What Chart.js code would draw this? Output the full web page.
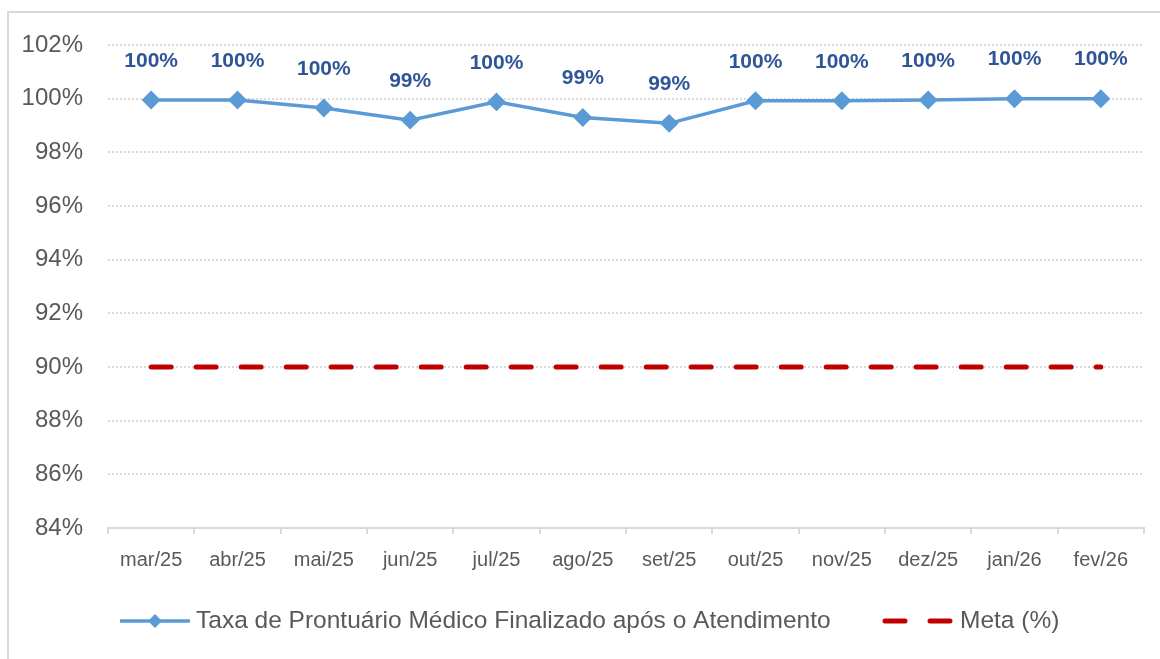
<!DOCTYPE html>
<html lang="pt">
<head>
    <meta charset="UTF-8">
    <title>Taxa de Prontuário Médico Finalizado</title>
    <script src="https://cdn.jsdelivr.net/npm/chart.js"></script>
    <style>
        html, body {
            margin: 0;
            padding: 0;
            background: #ffffff;
        }
        #chartContainer {
            position: relative;
            width: 1160px;
            height: 659px;
        }
    </style>
</head>
<body>
    <div id="chartContainer">
        <canvas id="myChart"></canvas>
    </div>

    <script>
        const months = ['mar/25', 'abr/25', 'mai/25', 'jun/25', 'jul/25', 'ago/25',
                        'set/25', 'out/25', 'nov/25', 'dez/25', 'jan/26', 'fev/26'];
        const taxa = [99.95, 99.95, 99.65, 99.2, 99.88, 99.3, 99.08, 99.92, 99.92, 99.95, 100, 100];
        const meta = [90, 90, 90, 90, 90, 90, 90, 90, 90, 90, 90, 90];
        const yTicks = [84, 86, 88, 90, 92, 94, 96, 98, 100, 102];

        const FONT = "'Liberation Sans Narrow', 'Liberation Sans', sans-serif";
        const GREY = '#595959';

        // value labels above the blue line
        const valueLabels = {
            id: 'valueLabels',
            afterDatasetsDraw(chart) {
                const ctx = chart.ctx;
                const pts = chart.getDatasetMeta(0).data;
                ctx.save();
                ctx.font = 'bold 21px ' + FONT;
                ctx.fillStyle = '#2F5597';
                ctx.textAlign = 'center';
                ctx.textBaseline = 'middle';
                pts.forEach((p, i) => {
                    ctx.fillText(Math.round(taxa[i]) + '%', p.x, p.y - 39);
                });
                ctx.restore();
            }
        };

        // frame + legend drawn like the spreadsheet one
        const frameLegend = {
            id: 'frameLegend',
            beforeDraw(chart) {
                const ctx = chart.ctx;
                ctx.save();
                ctx.strokeStyle = '#D9D9D9';
                ctx.lineWidth = 2;
                ctx.beginPath();
                ctx.moveTo(8, 700);
                ctx.lineTo(8, 12);
                ctx.lineTo(1200, 12);
                ctx.stroke();
                ctx.restore();
            },
            afterDraw(chart) {
                const ctx = chart.ctx;
                const y = 621;
                ctx.save();
                // series 1
                ctx.strokeStyle = '#5B9BD5';
                ctx.lineWidth = 3.5;
                ctx.beginPath();
                ctx.moveTo(120, y);
                ctx.lineTo(190, y);
                ctx.stroke();
                ctx.fillStyle = '#5B9BD5';
                ctx.beginPath();
                ctx.moveTo(155, y - 7);
                ctx.lineTo(162, y);
                ctx.lineTo(155, y + 7);
                ctx.lineTo(148, y);
                ctx.closePath();
                ctx.fill();
                // meta
                ctx.strokeStyle = '#C00000';
                ctx.lineWidth = 5;
                ctx.lineCap = 'round';
                ctx.beginPath();
                ctx.moveTo(885, y);
                ctx.lineTo(905, y);
                ctx.moveTo(930, y);
                ctx.lineTo(950, y);
                ctx.stroke();
                ctx.font = '24.5px ' + FONT;
                ctx.fillStyle = GREY;
                ctx.textBaseline = 'middle';
                ctx.fillText(chart.data.datasets[0].label, 196, y);
                ctx.fillText(chart.data.datasets[1].label, 960, y);
                ctx.restore();
            }
        };

        const ctx = document.getElementById('myChart').getContext('2d');
        const myChart = new Chart(ctx, {
            type: 'line',
            data: {
                labels: months,
                datasets: [{
                    label: 'Taxa de Prontuário Médico Finalizado após o Atendimento',
                    data: taxa,
                    borderColor: '#5B9BD5',
                    backgroundColor: '#5B9BD5',
                    borderWidth: 3.5,
                    pointStyle: 'rectRot',
                    pointRadius: 7,
                    pointHoverRadius: 7,
                    tension: 0
                }, {
                    label: 'Meta (%)',
                    data: meta,
                    borderColor: '#C00000',
                    borderWidth: 5,
                    borderDash: [20, 25],
                    borderCapStyle: 'round',
                    pointRadius: 0,
                    pointHoverRadius: 0
                }]
            },
            options: {
                responsive: true,
                maintainAspectRatio: false,
                animation: false,
                layout: {
                    padding: { top: 45, right: 16, bottom: 81, left: 0 }
                },
                plugins: {
                    legend: { display: false },
                    tooltip: { enabled: false }
                },
                scales: {
                    x: {
                        offset: true,
                        grid: {
                            offset: true,
                            drawOnChartArea: false,
                            drawTicks: true,
                            tickLength: 6,
                            color: '#D9D9D9',
                            lineWidth: 2
                        },
                        border: { display: true, color: '#D9D9D9', width: 2 },
                        ticks: {
                            color: GREY,
                            font: { family: FONT, size: 20 },
                            padding: 14,
                            maxRotation: 0,
                            autoSkip: false
                        },
                        afterFit(scale) { scale.height = 50; }
                    },
                    y: {
                        min: 84,
                        max: 102,
                        afterBuildTicks(scale) {
                            scale.ticks = yTicks.map(v => ({ value: v }));
                        },
                        grid: {
                            drawTicks: false,
                            color: '#D9D9D9',
                            lineWidth: 2
                        },
                        border: { display: false, dash: [2, 2] },
                        ticks: {
                            color: GREY,
                            font: { family: FONT, size: 24 },
                            padding: 25,
                            callback: v => v + '%'
                        },
                        afterFit(scale) { scale.width = 108; }
                    }
                }
            },
            plugins: [valueLabels, frameLegend]
        });
    </script>
</body>
</html>
